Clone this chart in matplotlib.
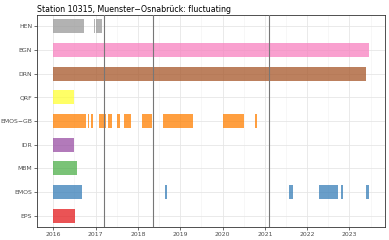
import matplotlib
matplotlib.use("Agg")
import matplotlib.pyplot as plt
from matplotlib.ticker import MultipleLocator

title = "Station 10315, Muenster\u2212Osnabrück: fluctuating"
categories = ["EPS", "EMOS", "MBM", "IDR", "EMOS\u2212GB", "QRF", "DRN", "BGN", "HEN"]
colors = ["#E41A1C", "#377EB8", "#4DAF4A", "#984EA3", "#FF7F00",
          "#FFFF33", "#A65628", "#F781BF", "#999999"]

# availability segments (start year, end year) per category
eps = [(2016.0, 2016.52)]
emos = [(2016.0, 2016.68), (2018.64, 2018.69), (2021.56, 2021.67),
        (2022.29, 2022.74), (2022.79, 2022.84), (2023.40, 2023.47)]
mbm = [(2016.0, 2016.55)]
idr = [(2016.0, 2016.50)]
emos_gb = [(2016.0, 2016.77), (2016.81, 2016.84), (2016.88, 2016.95),
           (2017.07, 2017.25), (2017.30, 2017.39), (2017.51, 2017.58),
           (2017.67, 2017.83), (2018.09, 2018.33), (2018.59, 2019.30),
           (2020.0, 2020.51), (2020.77, 2020.81)]
qrf = [(2016.0, 2016.50)]
drn = [(2016.0, 2023.38)]
bgn = [(2016.0, 2023.47)]
hen = [(2016.0, 2016.73), (2016.96, 2016.99), (2017.01, 2017.15)]
segments = [eps, emos, mbm, idr, emos_gb, qrf, drn, bgn, hen]

vlines = [2017.21, 2018.36, 2021.11]
years = [2016, 2017, 2018, 2019, 2020, 2021, 2022, 2023]

fig = plt.figure(figsize=(3.89, 2.40), dpi=100)
ax = fig.add_axes([0.0951, 0.054, 0.8946, 0.8835])

for i, (segs, col) in enumerate(zip(segments, colors)):
    y = i + 1
    ax.broken_barh([(s, e - s) for s, e in segs], (y - 0.3, 0.6),
                   facecolors=col, alpha=0.75, linewidth=0)

for v in vlines:
    ax.axvline(v, color="#777777", lw=0.8, zorder=3)

ax.set_xlim(2015.615, 2023.84)
ax.set_ylim(0.52, 9.48)
ax.set_yticks(range(1, len(categories) + 1))
ax.set_yticklabels(categories)
ax.set_xticks(years)
ax.set_xticklabels([str(y) for y in years])
ax.xaxis.set_minor_locator(MultipleLocator(0.5))

ax.grid(True, which="major", color="#e6e6e6", lw=0.6)
ax.grid(True, which="minor", axis="x", color="#f2f2f2", lw=0.4)
ax.set_axisbelow(True)

ax.tick_params(axis="both", which="major", labelsize=4.4, colors="#333333",
               length=2, width=0.5, pad=1.5, labelcolor="#4d4d4d")
ax.tick_params(axis="both", which="minor", length=0)
for sp in ax.spines.values():
    sp.set_color("#333333")
    sp.set_linewidth(0.6)

fig.text(0.0951, 0.98, title, fontsize=5.7, ha="left", va="top", color="black")

fig.savefig("out.png", dpi=100)
